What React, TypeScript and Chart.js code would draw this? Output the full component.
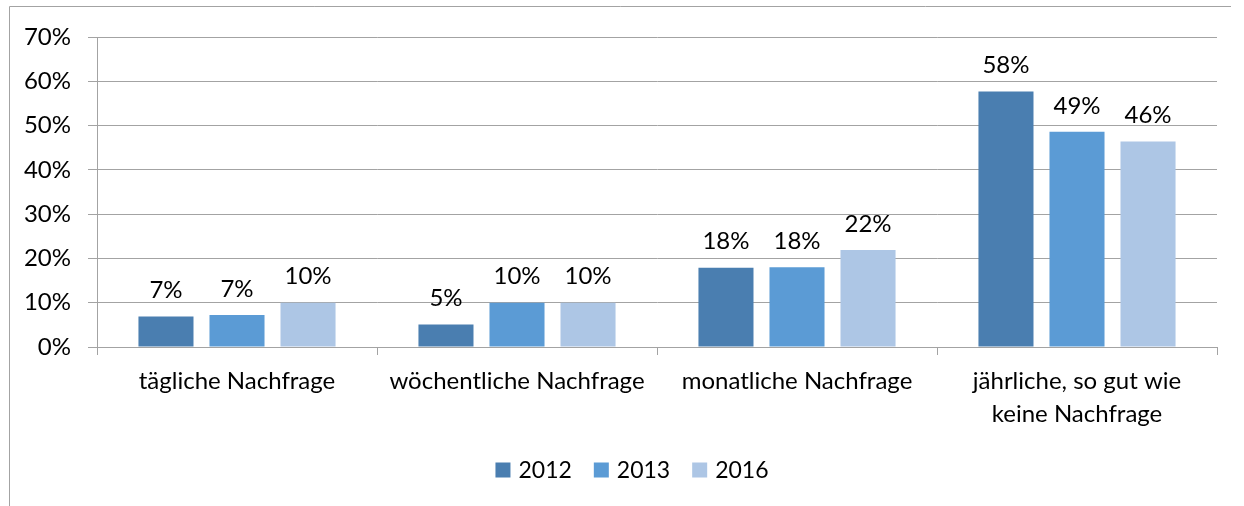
import React, { useEffect, useRef } from "react";
import { Chart, registerables } from "chart.js";

Chart.register(...registerables);

const categories: (string | string[])[] = [
  "tägliche Nachfrage",
  "wöchentliche Nachfrage",
  "monatliche Nachfrage",
  ["jährliche, so gut wie", "keine Nachfrage"],
];
const seriesNames = ["2012", "2013", "2016"];
const values2012 = [6.9, 5.1, 17.9, 57.7];
const values2013 = [7.2, 10.0, 18.0, 48.6];
const values2016 = [10.0, 10.0, 21.9, 46.4];
const colors = ["#4A7EB0", "#5B9BD5", "#ADC6E5"];
const yTicks = [0, 10, 20, 30, 40, 50, 60, 70];

const FONT = "Lato, 'Noto Sans', sans-serif";
const FS = 24;
const LEGEND_FS = 23;
const GRID = "#a3a3a3";

const frame = {
  id: "frame",
  beforeDraw(chart: any) {
    const ctx = chart.ctx;
    ctx.save();
    ctx.fillStyle = "#fff";
    ctx.fillRect(0, 0, chart.width, chart.height);
    ctx.strokeStyle = GRID;
    ctx.lineWidth = 1;
    ctx.beginPath();
    ctx.moveTo(9.5, chart.height);
    ctx.lineTo(9.5, 6.5);
    ctx.lineTo(1231, 6.5);
    ctx.stroke();
    ctx.restore();
  },
};

const dataLabels = {
  id: "dataLabels",
  afterDatasetsDraw(chart: any) {
    const ctx = chart.ctx;
    ctx.save();
    ctx.font = `${FS}px ${FONT}`;
    ctx.fillStyle = "#000";
    ctx.textAlign = "center";
    ctx.textBaseline = "middle";
    chart.data.datasets.forEach((ds: any, i: number) => {
      const meta = chart.getDatasetMeta(i);
      meta.data.forEach((bar: any, j: number) => {
        const v = ds.data[j];
        ctx.fillText(Math.round(v) + "%", bar.x, bar.y - 26);
      });
    });
    ctx.restore();
  },
};

const customLegend = {
  id: "customLegend",
  afterDraw(chart: any) {
    const ctx = chart.ctx;
    ctx.save();
    ctx.font = `${LEGEND_FS}px ${FONT}`;
    ctx.textBaseline = "middle";
    ctx.textAlign = "left";
    const box = 15;
    const gap = 8;
    const spacing = 22;
    const items = chart.data.datasets.map((ds: any) => ({
      label: ds.label,
      color: ds.backgroundColor,
      w: ctx.measureText(ds.label).width,
    }));
    const total =
      items.reduce((s: number, it: any) => s + box + gap + it.w, 0) +
      spacing * (items.length - 1);
    let x = 632 - total / 2;
    const cy = 470;
    items.forEach((it: any) => {
      ctx.fillStyle = it.color;
      ctx.fillRect(x, cy - box / 2, box, box);
      ctx.fillStyle = "#000";
      ctx.fillText(it.label, x + box + gap, cy + 1);
      x += box + gap + it.w + spacing;
    });
    ctx.restore();
  },
};

export default function App() {
  const ref = useRef<HTMLCanvasElement>(null);
  useEffect(() => {
    if (!ref.current) return;
    const chart = new Chart(ref.current, {
      type: "bar",
      data: {
        labels: categories,
        datasets: [values2012, values2013, values2016].map((d, i) => ({
          label: seriesNames[i],
          data: d,
          backgroundColor: colors[i],
          borderWidth: 0,
          categoryPercentage: 0.761,
          barPercentage: 0.775,
        })),
      },
      options: {
        animation: false,
        responsive: false,
        devicePixelRatio: 1,
        layout: { padding: { left: 0, right: 27, top: 37, bottom: 69 } },
        plugins: {
          legend: { display: false },
          tooltip: { enabled: false },
        },
        scales: {
          x: {
            afterFit: (s: any) => {
              s.height = 90;
            },
            grid: {
              display: true,
              drawOnChartArea: false,
              drawTicks: true,
              tickLength: 8,
              color: GRID,
              offset: true,
            },
            border: { display: false },
            ticks: {
              color: "#000",
              font: { family: FONT, size: FS, lineHeight: 1.375 },
              padding: 10,
              maxRotation: 0,
              autoSkip: false,
            },
          },
          y: {
            min: 0,
            max: 70,
            afterFit: (s: any) => {
              s.width = 97;
            },
            afterBuildTicks: (s: any) => {
              s.ticks = yTicks.map((v) => ({ value: v }));
            },
            grid: {
              color: GRID,
              tickLength: 9,
              drawTicks: true,
            },
            border: { display: true, color: GRID },
            ticks: {
              color: "#000",
              font: { family: FONT, size: FS },
              padding: 17,
              callback: (v: any) => v + "%",
            },
          },
        },
      },
      plugins: [frame, dataLabels, customLegend],
    });
    return () => chart.destroy();
  }, []);
  return (
    <div style={{ position: "absolute", left: 0, top: 0, width: 1244, height: 506 }}>
      <canvas ref={ref} width={1244} height={506} />
    </div>
  );
}
